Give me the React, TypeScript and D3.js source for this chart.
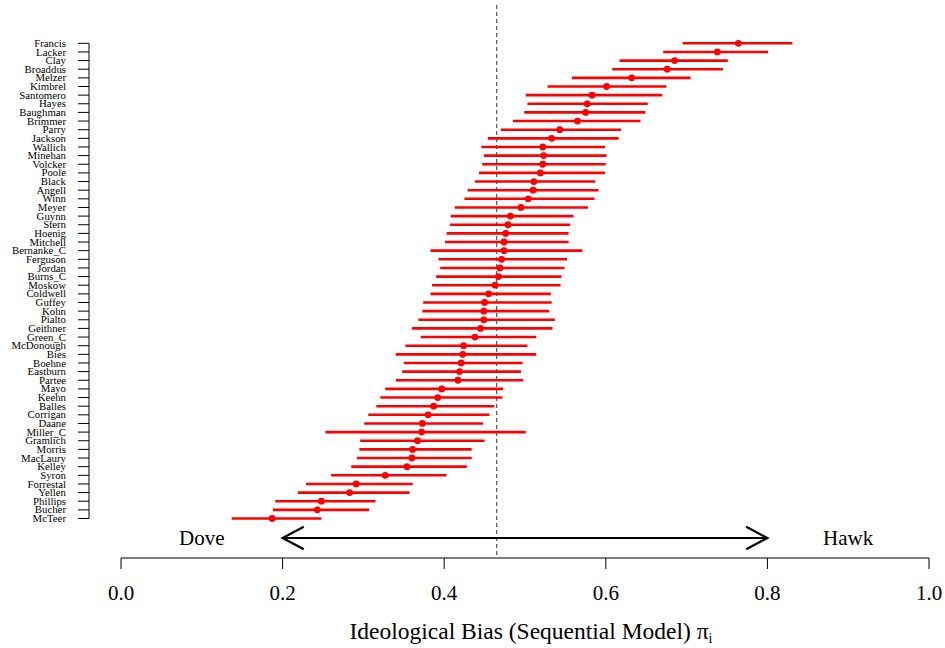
import React from "react";
import * as d3 from "d3";

// Members, ordered from most hawkish (top) to most dovish (bottom)
const members = [
  "Francis", "Lacker", "Clay", "Broaddus", "Melzer", "Kimbrel", "Santomero", "Hayes",
  "Baughman", "Brimmer", "Parry", "Jackson", "Wallich", "Minehan", "Volcker", "Poole",
  "Black", "Angell", "Winn", "Meyer", "Guynn", "Stern", "Hoenig", "Mitchell",
  "Bernanke_C", "Ferguson", "Jordan", "Burns_C", "Moskow", "Coldwell", "Guffey", "Kohn",
  "Pialto", "Geithner", "Green_C", "McDonough", "Bies", "Boehne", "Eastburn", "Partee",
  "Mayo", "Keehn", "Balles", "Corrigan", "Daane", "Miller_C", "Gramlich", "Morris",
  "MacLaury", "Kelley", "Syron", "Forrestal", "Yellen", "Phillips", "Bucher", "McTeer",
];

// Posterior point estimates of the ideological bias
const estimate = [
  0.764, 0.738, 0.685, 0.676, 0.632, 0.601, 0.583, 0.577,
  0.575, 0.565, 0.543, 0.533, 0.522, 0.523, 0.522, 0.519,
  0.511, 0.510, 0.504, 0.495, 0.482, 0.479, 0.476, 0.474,
  0.474, 0.471, 0.469, 0.467, 0.463, 0.455, 0.450, 0.449,
  0.449, 0.445, 0.438, 0.424, 0.423, 0.421, 0.419, 0.417,
  0.397, 0.392, 0.387, 0.380, 0.373, 0.372, 0.367, 0.361,
  0.360, 0.354, 0.327, 0.291, 0.283, 0.248, 0.243, 0.187,
];

// Lower interval bounds
const lower = [
  0.695, 0.671, 0.617, 0.608, 0.558, 0.528, 0.501, 0.503,
  0.499, 0.485, 0.470, 0.454, 0.446, 0.449, 0.447, 0.443,
  0.438, 0.429, 0.425, 0.413, 0.408, 0.407, 0.403, 0.401,
  0.383, 0.393, 0.395, 0.390, 0.385, 0.383, 0.374, 0.373,
  0.368, 0.360, 0.371, 0.352, 0.340, 0.350, 0.348, 0.340,
  0.327, 0.321, 0.316, 0.306, 0.301, 0.253, 0.296, 0.295,
  0.292, 0.285, 0.260, 0.229, 0.219, 0.191, 0.188, 0.137,
];

// Upper interval bounds
const upper = [
  0.831, 0.801, 0.751, 0.745, 0.705, 0.675, 0.670, 0.652,
  0.649, 0.643, 0.619, 0.616, 0.599, 0.601, 0.600, 0.599,
  0.587, 0.591, 0.586, 0.578, 0.560, 0.556, 0.554, 0.554,
  0.571, 0.552, 0.549, 0.545, 0.544, 0.532, 0.533, 0.530,
  0.537, 0.534, 0.514, 0.503, 0.514, 0.497, 0.495, 0.498,
  0.473, 0.472, 0.462, 0.456, 0.448, 0.501, 0.450, 0.434,
  0.434, 0.428, 0.403, 0.361, 0.357, 0.315, 0.307, 0.248,
];

const xTicks = [0, 0.2, 0.4, 0.6, 0.8, 1.0];
const referenceLine = 0.465;
const arrowSpan = [0.2, 0.8];
const endLabels = [
  { text: "Dove", at: 0.1 },
  { text: "Hawk", at: 0.9 },
];

const W = 945;
const H = 648;
const FONT = "Liberation Serif";

export default function App() {
  const x = d3.scaleLinear().domain([0, 1]).range([121, 929]);
  const y = d3.scalePoint<string>().domain(members).range([43.3, 518.5]);

  const axisY = 558;
  const arrowY = 538;
  const leftAxisX = 89;
  const headLen = 24;
  const headAng = (28 * Math.PI) / 180;
  const hx = headLen * Math.cos(headAng);
  const hy = headLen * Math.sin(headAng);
  const a0 = x(arrowSpan[0]);
  const a1 = x(arrowSpan[1]);

  const arrowPath = d3.path();
  arrowPath.moveTo(a0, arrowY);
  arrowPath.lineTo(a1, arrowY);
  arrowPath.moveTo(a0 + hx, arrowY - hy);
  arrowPath.lineTo(a0, arrowY);
  arrowPath.lineTo(a0 + hx, arrowY + hy);
  arrowPath.moveTo(a1 - hx, arrowY - hy);
  arrowPath.lineTo(a1, arrowY);
  arrowPath.lineTo(a1 - hx, arrowY + hy);

  return (
    <svg
      width={W}
      height={H}
      viewBox={`0 0 ${W} ${H}`}
      style={{ position: "absolute", left: 0, top: 0, background: "#fff", fontFamily: FONT }}
    >
      {/* reference line */}
      <line
        x1={x(referenceLine)}
        x2={x(referenceLine)}
        y1={5}
        y2={axisY}
        stroke="#333"
        strokeWidth={1}
        strokeDasharray="4,3"
      />

      {/* left name axis */}
      <line x1={leftAxisX} x2={leftAxisX} y1={y(members[0])} y2={y(members[members.length - 1])} stroke="#000" strokeWidth={1} />
      {members.map((m) => (
        <g key={m}>
          <line x1={leftAxisX - 11} x2={leftAxisX} y1={y(m)} y2={y(m)} stroke="#000" strokeWidth={1} />
          <text x={66} y={y(m)} dy="0.33em" textAnchor="end" fontSize={10.8} fill="#000" style={{ fontFamily: FONT }}>
            {m}
          </text>
        </g>
      ))}

      {/* intervals and point estimates */}
      {members.map((m, i) => (
        <g key={`iv-${m}`}>
          <line
            x1={x(lower[i])}
            x2={x(upper[i])}
            y1={y(m)}
            y2={y(m)}
            stroke="#ff0000"
            strokeWidth={2.6}
          />
          <circle cx={x(estimate[i])} cy={y(m)} r={3.4} fill="#ff0000" />
        </g>
      ))}

      {/* Dove / Hawk arrow */}
      <path d={arrowPath.toString()} fill="none" stroke="#000" strokeWidth={2.2} strokeLinejoin="miter" />
      {endLabels.map((l) => (
        <text key={l.text} x={x(l.at)} y={arrowY} dy="0.35em" textAnchor="middle" fontSize={21} fill="#000" style={{ fontFamily: FONT }}>
          {l.text}
        </text>
      ))}

      {/* bottom axis */}
      <line x1={x(0)} x2={x(1)} y1={axisY} y2={axisY} stroke="#000" strokeWidth={1} />
      {xTicks.map((t) => (
        <g key={t}>
          <line x1={x(t)} x2={x(t)} y1={axisY} y2={axisY + 11} stroke="#000" strokeWidth={1} />
          <text x={x(t)} y={600} textAnchor="middle" fontSize={21} fill="#000" style={{ fontFamily: FONT }}>
            {d3.format(".1f")(t)}
          </text>
        </g>
      ))}
      <text x={(x(0) + x(1)) / 2 + 6} y={639} textAnchor="middle" fontSize={23.5} fill="#000" style={{ fontFamily: FONT }}>
        Ideological Bias (Sequential Model) π
        <tspan fontSize={14} dy={3.5}>i</tspan>
      </text>
    </svg>
  );
}
